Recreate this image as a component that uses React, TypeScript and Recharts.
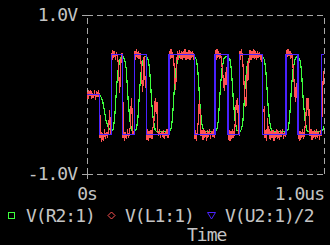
import React from 'react';
import { LineChart, Line, XAxis, YAxis, ReferenceLine, Legend } from 'recharts';

const xTicks = [0, 1];
const xTickLabels = ['0s', '1.0us'];
const yTicks = [-1, 1];
const yTickLabels = ['-1.0V', '1.0V'];
const xAxisTitle = 'Time';

const seriesNames = ['V(R2:1)', 'V(L1:1)', 'V(U2:1)/2'];
const seriesColors = ['#3cff3c', '#ff5252', '#4a22ff'];

// V(U2:1)/2 - logic output, value holds until the next time (stepAfter)
const u2Time = [0, 0.054, 0.102, 0.151, 0.2, 0.25, 0.346, 0.453, 0.54, 0.595, 0.644, 0.74, 0.84, 0.89, 0.989, 1.0];
const u2Volt = [0, -0.5, 0.5, -0.5, 0.5, -0.5, 0.5, -0.5, 0.5, -0.5, 0.5, -0.5, 0.5, -0.5, 0.5, 0.5];

// V(R2:1) - smoothed copy, lags the logic edges
const r2Time = [
  0, 0.054, 0.059, 0.066, 0.073, 0.08, 0.09, 0.1,
  0.102, 0.11, 0.116, 0.121, 0.125, 0.132, 0.14, 0.147,
  0.151, 0.159, 0.165, 0.17, 0.174, 0.181, 0.189, 0.197,
  0.2, 0.208, 0.214, 0.219, 0.223, 0.23, 0.238, 0.246,
  0.25, 0.258, 0.264, 0.269, 0.273, 0.28, 0.288, 0.296,
  0.346, 0.354, 0.36, 0.365, 0.369, 0.376, 0.384, 0.392,
  0.453, 0.461, 0.467, 0.472, 0.476, 0.483, 0.491, 0.499,
  0.54, 0.548, 0.554, 0.559, 0.563, 0.57, 0.578, 0.586,
  0.595, 0.603, 0.609, 0.614, 0.618, 0.625, 0.633, 0.641,
  0.644, 0.652, 0.658, 0.663, 0.667, 0.674, 0.682, 0.69,
  0.74, 0.748, 0.754, 0.759, 0.763, 0.77, 0.778, 0.786,
  0.84, 0.848, 0.854, 0.859, 0.863, 0.87, 0.878, 0.886,
  0.89, 0.898, 0.904, 0.909, 0.913, 0.92, 0.928, 0.936,
  0.989, 0.997, 1.0,
];
const r2Volt = [
  0, 0, -0.03, -0.08, -0.2, -0.32, -0.42, -0.46,
  -0.465, -0.44, -0.32, -0.1, 0.1, 0.33, 0.45, 0.48,
  0.48, 0.44, 0.33, 0.11, -0.09, -0.33, -0.45, -0.47,
  -0.47, -0.44, -0.33, -0.1, 0.1, 0.34, 0.45, 0.48,
  0.48, 0.44, 0.33, 0.1, -0.1, -0.33, -0.45, -0.47,
  -0.47, -0.44, -0.32, -0.1, 0.11, 0.33, 0.45, 0.48,
  0.48, 0.44, 0.33, 0.1, -0.1, -0.34, -0.45, -0.47,
  -0.47, -0.44, -0.33, -0.1, 0.1, 0.33, 0.45, 0.48,
  0.48, 0.44, 0.32, 0.1, -0.1, -0.33, -0.45, -0.47,
  -0.47, -0.44, -0.33, -0.1, 0.1, 0.34, 0.45, 0.48,
  0.48, 0.44, 0.33, 0.1, -0.1, -0.33, -0.45, -0.47,
  -0.47, -0.44, -0.33, -0.1, 0.1, 0.33, 0.45, 0.48,
  0.48, 0.44, 0.33, 0.1, -0.1, -0.33, -0.45, -0.47,
  -0.47, -0.44, -0.4,
];

// V(L1:1) - noisy node with ringing after each edge
const l1Time = [
  0, 0.004, 0.008, 0.012, 0.016, 0.02, 0.024, 0.028, 0.032, 0.036, 0.04, 0.044, 0.048, 0.052,
  0.054, 0.055, 0.058, 0.062, 0.066, 0.07, 0.074, 0.078, 0.082, 0.086, 0.09, 0.094, 0.096, 0.098, 0.101,
  0.102, 0.103, 0.106, 0.109, 0.112, 0.116, 0.12, 0.124, 0.128, 0.132, 0.135, 0.138, 0.141, 0.144, 0.148, 0.15,
  0.151, 0.152, 0.155, 0.159, 0.163, 0.167, 0.171, 0.175, 0.179, 0.183, 0.186, 0.188, 0.191, 0.194, 0.198,
  0.2, 0.201, 0.204, 0.208, 0.212, 0.216, 0.22, 0.224, 0.228, 0.232, 0.235, 0.238, 0.241, 0.244, 0.247, 0.249,
  0.25, 0.251, 0.254, 0.258, 0.262, 0.266, 0.27, 0.274, 0.278, 0.282, 0.286, 0.289, 0.292, 0.295, 0.298,
  0.302, 0.306, 0.31, 0.314, 0.318, 0.322, 0.326, 0.33, 0.334, 0.338, 0.342, 0.345,
  0.346, 0.347, 0.35, 0.354, 0.358, 0.362, 0.366, 0.37, 0.373, 0.376, 0.379, 0.382, 0.386, 0.39,
  0.394, 0.398, 0.402, 0.406, 0.41, 0.414, 0.418, 0.422, 0.426, 0.43, 0.434, 0.438, 0.442, 0.446, 0.45, 0.452,
  0.453, 0.454, 0.457, 0.461, 0.465, 0.469, 0.472, 0.475, 0.478, 0.481, 0.485, 0.489, 0.493, 0.497,
  0.501, 0.505, 0.509, 0.513, 0.517, 0.521, 0.525, 0.529, 0.533, 0.537, 0.539,
  0.54, 0.541, 0.544, 0.548, 0.552, 0.556, 0.56, 0.564, 0.568, 0.572, 0.576, 0.58, 0.584, 0.587, 0.59, 0.594,
  0.595, 0.596, 0.599, 0.603, 0.607, 0.611, 0.615, 0.619, 0.623, 0.627, 0.63, 0.633, 0.636, 0.639, 0.642,
  0.644, 0.645, 0.648, 0.652, 0.656, 0.66, 0.664, 0.668, 0.671, 0.674, 0.677, 0.68, 0.684, 0.688,
  0.692, 0.696, 0.7, 0.704, 0.708, 0.712, 0.716, 0.72, 0.724, 0.728, 0.732, 0.736, 0.739,
  0.74, 0.741, 0.746, 0.749, 0.751, 0.754, 0.758, 0.762, 0.765, 0.769, 0.773, 0.777, 0.781, 0.785,
  0.789, 0.793, 0.797, 0.801, 0.805, 0.809, 0.813, 0.817, 0.821, 0.825, 0.829, 0.833, 0.837, 0.839,
  0.84, 0.841, 0.844, 0.848, 0.852, 0.856, 0.86, 0.864, 0.868, 0.872, 0.876, 0.88, 0.883, 0.886, 0.889,
  0.89, 0.891, 0.894, 0.898, 0.902, 0.906, 0.91, 0.914, 0.918, 0.922, 0.926, 0.929, 0.932, 0.935, 0.938,
  0.941, 0.945, 0.949, 0.953, 0.957, 0.961, 0.965, 0.969, 0.973, 0.977, 0.981, 0.985, 0.988,
  0.989, 0.992, 0.995, 0.998, 1.0,
];
const l1Volt = [
  0.03, -0.05, 0.05, -0.02, 0.06, -0.06, 0.02, -0.04, 0.05, -0.07, 0.04, -0.03, 0.06, -0.05,
  0.02, -0.55, -0.45, -0.6, -0.48, -0.58, -0.44, -0.56, -0.47, -0.55, -0.45, -0.3, -0.2, -0.45, -0.5,
  -0.5, 0.52, 0.43, 0.56, 0.46, 0.55, 0.44, 0.53, 0.47, 0.4, 0.2, 0.02, 0.25, 0.45, 0.52, 0.46,
  0.45, -0.55, -0.45, -0.58, -0.47, -0.56, -0.44, -0.55, -0.48, -0.4, -0.15, -0.05, -0.3, -0.5, -0.46,
  -0.5, 0.55, 0.44, 0.57, 0.46, 0.54, 0.45, 0.52, 0.4, 0.15, 0.03, 0.3, 0.48, 0.25, 0.08, 0.15,
  0.1, -0.57, -0.44, -0.58, -0.46, -0.55, -0.45, -0.56, -0.43, -0.35, -0.12, -0.04, -0.25, -0.1, -0.45,
  -0.52, -0.44, -0.55, -0.46, -0.53, -0.45, -0.56, -0.47, -0.52, -0.44, -0.54, -0.47,
  -0.48, 0.55, 0.45, 0.57, 0.46, 0.53, 0.42, 0.25, 0.06, 0.2, 0.42, 0.55, 0.44, 0.56,
  0.45, 0.54, 0.43, 0.55, 0.46, 0.57, 0.44, 0.53, 0.45, 0.56, 0.43, 0.54, 0.46, 0.55, 0.44, 0.5,
  0.45, -0.56, -0.45, -0.58, -0.47, -0.35, -0.15, -0.07, -0.3, -0.52, -0.45, -0.57, -0.44, -0.55,
  -0.46, -0.58, -0.45, -0.54, -0.43, -0.56, -0.46, -0.53, -0.44, -0.55, -0.47,
  -0.48, 0.56, 0.44, 0.57, 0.46, 0.54, 0.45, 0.52, 0.4, 0.3, 0.15, 0.05, 0.28, 0.12, 0.35, 0.3,
  0.3, -0.57, -0.45, -0.59, -0.46, -0.56, -0.44, -0.55, -0.45, -0.3, -0.07, -0.2, -0.05, -0.4, -0.52,
  -0.5, 0.55, 0.44, 0.57, 0.45, 0.3, 0.05, -0.1, -0.15, 0.1, 0.4, 0.18, 0.45, 0.56,
  0.44, 0.55, 0.46, 0.57, 0.45, 0.54, 0.43, 0.55, 0.46, 0.53, 0.44, 0.5, 0.4,
  0.4, -0.18, -0.22, -0.15, -0.55, -0.45, -0.58, -0.3, -0.5, -0.44, -0.57, -0.46, -0.55, -0.45,
  -0.58, -0.47, -0.54, -0.44, -0.56, -0.46, -0.57, -0.45, -0.53, -0.44, -0.56, -0.47, -0.54, -0.48,
  -0.5, 0.56, 0.47, 0.57, 0.48, 0.55, 0.45, 0.52, 0.4, 0.25, 0.05, -0.1, 0.15, -0.05, 0.2,
  0.2, -0.56, -0.45, -0.58, -0.46, -0.55, -0.44, -0.56, -0.47, -0.35, -0.15, -0.04, -0.2, -0.05, -0.35,
  -0.52, -0.44, -0.57, -0.46, -0.54, -0.45, -0.56, -0.44, -0.55, -0.46, -0.57, -0.45, -0.52,
  -0.5, -0.2, 0.1, 0.25, 0.3,
];

const toPoints = (ts: number[], vs: number[]) => ts.map((t, i) => ({ t, v: vs[i] }));
const r2Data = toPoints(r2Time, r2Volt);
const l1Data = toPoints(l1Time, l1Volt);
const u2Data = toPoints(u2Time, u2Volt);

const GRID = '#a8a8a8';
const TEXT = '#c4c4c4';
const FONT = '"DejaVu Sans Mono", monospace';
const textStyle = { fill: TEXT, fontFamily: FONT, fontSize: 18, letterSpacing: -1 };

const TimeTick = (props: any) => {
  const { x, y, index } = props;
  const last = index === xTicks.length - 1;
  return (
    <g>
      {index === 0 && <line x1={x} y1={y} x2={x} y2={y + 5} stroke={GRID} shapeRendering="crispEdges" />}
      <text x={x} y={y + 20} dy="0.36em" textAnchor={last ? 'end' : 'middle'} style={textStyle}>
        {xTickLabels[index]}
      </text>
    </g>
  );
};

const VoltTick = (props: any) => {
  const { x, y, index } = props;
  return (
    <text x={x} y={y} dy="0.36em" textAnchor="end" style={textStyle}>
      {yTickLabels[index]}
    </text>
  );
};

// PSpice style legend: marker + trace name, axis title below
const PlotLegend = () => {
  const marks = [
    <rect key="m0" x={8.5} y={12.5} width={6} height={6} fill="none" stroke={seriesColors[0]} />,
    <polygon key="m1" points="111.5,12 115,15.5 111.5,19 108,15.5" fill="none" stroke={seriesColors[1]} />,
    <polygon key="m2" points="207.5,12.5 215.5,12.5 211.5,19" fill="none" stroke={seriesColors[2]} />,
  ];
  const textX = [26, 125, 225];
  return (
    <svg width={330} height={45}>
      {marks}
      {seriesNames.map((name, i) => (
        <text key={name} x={textX[i]} y={15.5} dy="0.36em" style={textStyle}>
          {name}
        </text>
      ))}
      <text x={187} y={35} dy="0.36em" style={textStyle}>
        {xAxisTitle}
      </text>
    </svg>
  );
};

export default function App() {
  return (
    <div style={{ position: 'fixed', left: 0, top: 0, width: 330, height: 245, background: '#000' }}>
      <LineChart width={330} height={245} margin={{ top: 15, right: 6, bottom: 0, left: 0 }}>
        <XAxis
          type="number"
          dataKey="t"
          domain={[0, 1]}
          ticks={xTicks}
          height={71}
          tickSize={0}
          tickMargin={0}
          axisLine={false}
          tickLine={false}
          tick={<TimeTick />}
          allowDataOverflow
        />
        <YAxis
          type="number"
          domain={[-1, 1]}
          ticks={yTicks}
          width={87}
          tickSize={5}
          tickMargin={5}
          axisLine={false}
          tickLine={{ stroke: GRID, shapeRendering: 'crispEdges' }}
          tick={<VoltTick />}
          allowDataOverflow
        />
        <ReferenceLine y={1} stroke={GRID} strokeDasharray="6 4" shapeRendering="crispEdges" />
        <ReferenceLine y={-1} stroke={GRID} strokeDasharray="6 4" shapeRendering="crispEdges" />
        <ReferenceLine x={0} stroke={GRID} strokeDasharray="6 4" shapeRendering="crispEdges" />
        <ReferenceLine x={1} stroke={GRID} strokeDasharray="6 4" shapeRendering="crispEdges" />
        <Line data={r2Data} dataKey="v" type="linear" stroke={seriesColors[0]} strokeWidth={1.2} dot={false} isAnimationActive={false} shapeRendering="crispEdges" />
        <Line data={l1Data} dataKey="v" type="linear" stroke={seriesColors[1]} strokeWidth={1.2} dot={false} isAnimationActive={false} shapeRendering="crispEdges" />
        <Line data={u2Data} dataKey="v" type="stepAfter" stroke={seriesColors[2]} strokeWidth={1.2} dot={false} isAnimationActive={false} shapeRendering="crispEdges" />
        <Legend
          layout="horizontal"
          verticalAlign="middle"
          align="center"
          content={<PlotLegend />}
          wrapperStyle={{ position: 'absolute', left: 0, top: 200, width: 330, height: 45 }}
        />
      </LineChart>
    </div>
  );
}
